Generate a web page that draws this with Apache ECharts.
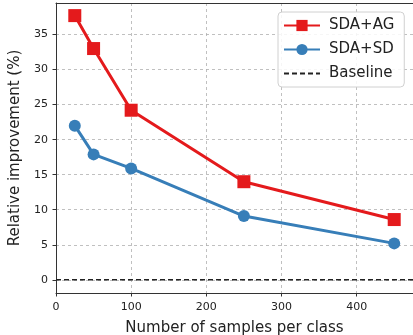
<!DOCTYPE html>
<html><head><meta charset="utf-8">
<script src="https://cdn.jsdelivr.net/npm/echarts@6/dist/echarts.min.js"></script>
<style>html,body{margin:0;padding:0;background:#fff}#c{width:413px;height:335px}</style>
</head><body><div id="c"></div>
<script>
const samples = [25, 50, 100, 250, 450];
const sdaAG = [37.7, 33.0, 24.2, 14.0, 8.6];
const sdaSD = [22.0, 17.9, 15.9, 9.1, 5.2];
const baselineX = [0, 475];
const baselineY = [0, 0];
const yTicks = [0, 5, 10, 15, 20, 25, 30, 35];

const chart = echarts.init(document.getElementById('c'), null, {renderer: 'canvas'});
const font = 'DejaVu Sans';
const gridLine = {show: true, lineStyle: {color: '#b0b0b0', type: [3, 3], width: 0.8}};
chart.setOption({
  animation: false,
  grid: {left: 56, top: 3, right: 0, bottom: 42, containLabel: false, outerBoundsMode: 'none'},
  xAxis: [{
    type: 'value', min: 0, max: 475, interval: 100,
    name: 'Number of samples per class', nameLocation: 'middle', nameGap: 28,
    nameTextStyle: {fontFamily: font, fontSize: 15, color: '#222'},
    axisLine: {show: true, onZero: false, lineStyle: {color: '#333', width: 1}},
    axisTick: {show: true, length: 3.5, lineStyle: {color: '#333'}},
    axisLabel: {fontFamily: font, fontSize: 11, color: '#222', margin: 9,
      formatter: v => (v % 100 === 0 && v <= 400) ? String(v) : ''},
    splitLine: gridLine
  }, {
    type: 'value', position: 'top', min: 0, max: 475,
    axisLine: {show: true, onZero: false, lineStyle: {color: '#333', width: 1}},
    axisTick: {show: false}, axisLabel: {show: false}, splitLine: {show: false}
  }],
  yAxis: {
    type: 'value', min: -1.88, max: 39.5,
    name: 'Relative improvement (%)', nameLocation: 'middle', nameGap: 25,
    nameTextStyle: {fontFamily: font, fontSize: 15, color: '#222'},
    axisLine: {show: true, onZero: false, lineStyle: {color: '#333', width: 1}},
    axisTick: {show: true, length: 3.5, customValues: yTicks, lineStyle: {color: '#333'}},
    axisLabel: {fontFamily: font, fontSize: 11, color: '#222', margin: 8, customValues: yTicks},
    splitLine: gridLine
  },
  legend: {
    left: 278, top: 12, orient: 'vertical', itemGap: 9, itemWidth: 36, itemHeight: 14,
    padding: [6, 10, 6, 5],
    backgroundColor: 'rgba(255,255,255,0.85)', borderColor: '#d0d0d0', borderWidth: 1, borderRadius: 4,
    textStyle: {fontFamily: font, fontSize: 15, color: '#222', padding: [0, 0, 0, 4]},
    data: ['SDA+AG', 'SDA+SD', {name: 'Baseline', itemStyle: {opacity: 0}}]
  },
  series: [
    {name: 'SDA+AG', type: 'line', data: samples.map((x, i) => [x, sdaAG[i]]),
      symbol: 'rect', symbolSize: 13, color: '#e41a1c',
      lineStyle: {width: 3, color: '#e41a1c'}, itemStyle: {color: '#e41a1c'}, z: 3},
    {name: 'SDA+SD', type: 'line', data: samples.map((x, i) => [x, sdaSD[i]]),
      symbol: 'circle', symbolSize: 12, color: '#377eb8',
      lineStyle: {width: 3, color: '#377eb8'}, itemStyle: {color: '#377eb8'}, z: 3},
    {name: 'Baseline', type: 'line', data: baselineX.map((x, i) => [x, baselineY[i]]),
      symbol: 'none', color: '#222',
      lineStyle: {width: 1.6, color: '#222', type: [5, 3]}, z: 2}
  ]
});
</script></body></html>
